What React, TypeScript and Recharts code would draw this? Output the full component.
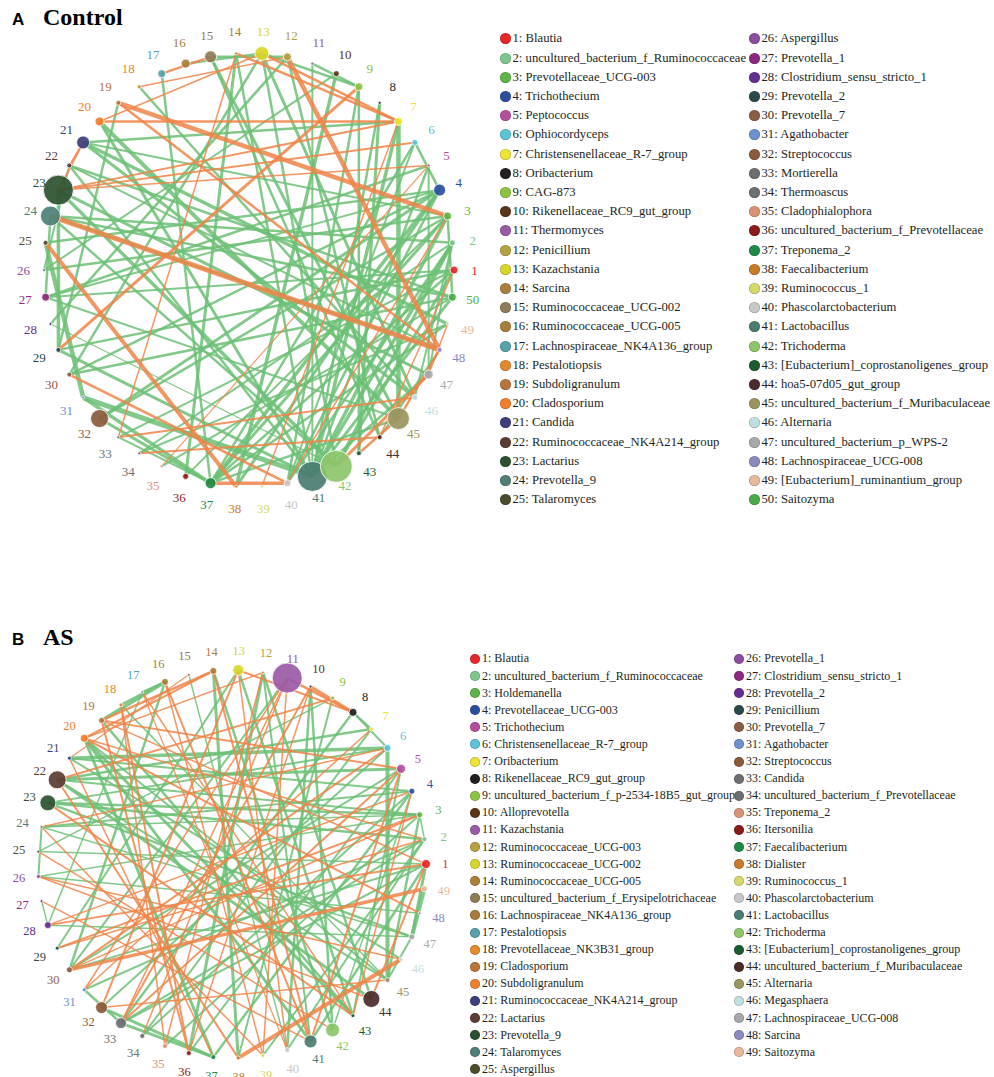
import { ScatterChart, Scatter, XAxis, YAxis, ReferenceLine } from 'recharts';

type Edge = [number, number, number];

const SERIF = '"Liberation Serif", "DejaVu Serif", "Noto Serif", Times, serif';
const SANS = '"Liberation Sans", Arial, "DejaVu Sans", sans-serif';
const POS_COLOR = '#6cbf76';
const NEG_COLOR = '#f08448';

// one colour per genus index, shared by both networks
const palette = [
  '#e8262a', '#7dc68f', '#5db548', '#2b4fa0', '#b44f9e', '#5bc4d6', '#eee333', '#231f20', '#8dc43f', '#5a3518',
  '#9a5aa6', '#b5a13f', '#d9d62a', '#ab7f3a', '#8e7b57', '#a87d3a', '#55a3a8', '#e08a2c', '#b8743a', '#f07f2a',
  '#3b3f7a', '#5a3d33', '#2e5030', '#4e8077', '#4c4c2c', '#8c4ea0', '#8e2780', '#662d91', '#2c4a4a', '#8b5e44',
  '#6e8fd0', '#8b5a3c', '#6d6e71', '#6d6e71', '#d99274', '#8b1a1a', '#1f8a45', '#c97a2a', '#d8d86a', '#c8c8c8',
  '#4a7c72', '#8cc56a', '#1a5c30', '#4a2a2a', '#9a9560', '#bfe0e0', '#a8a8a8', '#8a8ac0', '#e8b898', '#4aaa4a',
];

const controlNames = [
  'Blautia', 'uncultured_bacterium_f_Ruminococcaceae', 'Prevotellaceae_UCG-003', 'Trichothecium', 'Peptococcus',
  'Ophiocordyceps', 'Christensenellaceae_R-7_group', 'Oribacterium', 'CAG-873', 'Rikenellaceae_RC9_gut_group',
  'Thermomyces', 'Penicillium', 'Kazachstania', 'Sarcina', 'Ruminococcaceae_UCG-002',
  'Ruminococcaceae_UCG-005', 'Lachnospiraceae_NK4A136_group', 'Pestalotiopsis', 'Subdoligranulum', 'Cladosporium',
  'Candida', 'Ruminococcaceae_NK4A214_group', 'Lactarius', 'Prevotella_9', 'Talaromyces',
  'Aspergillus', 'Prevotella_1', 'Clostridium_sensu_stricto_1', 'Prevotella_2', 'Prevotella_7',
  'Agathobacter', 'Streptococcus', 'Mortierella', 'Thermoascus', 'Cladophialophora',
  'uncultured_bacterium_f_Prevotellaceae', 'Treponema_2', 'Faecalibacterium', 'Ruminococcus_1', 'Phascolarctobacterium',
  'Lactobacillus', 'Trichoderma', '[Eubacterium]_coprostanoligenes_group', 'hoa5-07d05_gut_group', 'uncultured_bacterium_f_Muribaculaceae',
  'Alternaria', 'uncultured_bacterium_p_WPS-2', 'Lachnospiraceae_UCG-008', '[Eubacterium]_ruminantium_group', 'Saitozyma',
];

const controlSizes = [
  4, 3, 4, 6, 1.5, 3, 4, 1.5, 4, 3,
  1.5, 4, 7, 1.5, 6, 4.5, 4, 2, 2.5, 4.5,
  6.5, 2.5, 15, 10, 2.5, 1.5, 4, 1.5, 2.5, 2.5,
  1.5, 9, 1.5, 1.5, 1.5, 3, 5.5, 1.5, 1.5, 3.5,
  15, 16, 2.5, 2.5, 11, 3, 4.5, 2.5, 1.5, 4,
];

// [node, node, line width]
const controlPositive: Edge[] = [
  [16, 13, 2.5], [15, 45, 3], [14, 36, 3], [18, 46, 2.5], [19, 29, 2.5], [20, 45, 4], [21, 49, 3.5],
  [22, 50, 2.5], [24, 50, 2.5], [25, 4, 2.5], [26, 3, 2.5], [27, 5, 2.5], [28, 42, 1.2], [29, 1, 2.5],
  [31, 41, 5], [31, 25, 4.5], [32, 4, 3], [33, 37, 2], [10, 38, 3.5], [8, 43, 3], [7, 45, 4.5],
  [11, 9, 2.5], [6, 4, 2.5], [13, 46, 3], [13, 30, 2.5], [12, 28, 2.5], [12, 44, 2.5], [9, 13, 2.5],
  [8, 41, 2.5], [7, 41, 3.5], [7, 21, 2.5], [6, 37, 2.5], [6, 40, 2], [5, 41, 2.5], [4, 37, 3.5],
  [4, 38, 3], [4, 40, 2.5], [4, 30, 2.5], [4, 27, 2], [3, 41, 3.5], [3, 37, 3], [3, 32, 2.5],
  [3, 21, 2], [2, 41, 3.5], [2, 42, 3], [2, 40, 2.5], [2, 24, 2.5], [2, 34, 2], [1, 42, 3],
  [1, 37, 2.5], [1, 27, 2], [1, 33, 2], [50, 41, 3], [50, 30, 2.5], [50, 35, 2], [49, 37, 2.5],
  [49, 34, 2], [48, 24, 2.5], [48, 22, 2], [47, 23, 3], [47, 41, 2.5], [46, 21, 3], [46, 2, 2],
  [45, 37, 2.5], [45, 27, 2], [44, 15, 2.5], [43, 9, 2.5], [42, 23, 3.5], [42, 24, 2.5], [41, 29, 3],
  [41, 22, 2.5], [41, 20, 3], [40, 9, 2.5], [37, 31, 3.5], [37, 17, 2.5], [36, 3, 2], [32, 37, 3],
  [24, 27, 2.5], [23, 29, 3.5], [22, 26, 2], [15, 12, 2.5], [14, 41, 2.5], [10, 26, 2], [5, 47, 2],
  [3, 50, 2.5], [2, 47, 2], [44, 48, 2], [42, 13, 2.5], [41, 11, 2],
];

const controlNegative: Edge[] = [
  [19, 3, 4.5], [20, 7, 2.5], [24, 48, 5], [12, 48, 4.5], [25, 38, 4], [37, 40, 3.5], [42, 47, 3],
  [45, 48, 2.5], [30, 40, 2.5], [33, 46, 2], [34, 44, 2], [33, 14, 1.5], [29, 9, 3], [7, 39, 1.5],
  [14, 7, 2.5], [13, 7, 2.5], [23, 7, 2], [23, 6, 2], [23, 5, 1.5], [21, 23, 2], [17, 15, 2.5],
  [20, 13, 1.5], [18, 12, 1.5], [19, 48, 2.5], [3, 40, 1.5], [49, 47, 1.5], [1, 44, 1.5], [35, 5, 1.2],
  [22, 21, 1.5], [43, 45, 2.5],
];

const asNames = [
  'Blautia', 'uncultured_bacterium_f_Ruminococcaceae', 'Holdemanella', 'Prevotellaceae_UCG-003', 'Trichothecium',
  'Christensenellaceae_R-7_group', 'Oribacterium', 'Rikenellaceae_RC9_gut_group', 'uncultured_bacterium_f_p-2534-18B5_gut_group', 'Alloprevotella',
  'Kazachstania', 'Ruminococcaceae_UCG-003', 'Ruminococcaceae_UCG-002', 'Ruminococcaceae_UCG-005', 'uncultured_bacterium_f_Erysipelotrichaceae',
  'Lachnospiraceae_NK4A136_group', 'Pestalotiopsis', 'Prevotellaceae_NK3B31_group', 'Cladosporium', 'Subdoligranulum',
  'Ruminococcaceae_NK4A214_group', 'Lactarius', 'Prevotella_9', 'Talaromyces', 'Aspergillus',
  'Prevotella_1', 'Clostridium_sensu_stricto_1', 'Prevotella_2', 'Penicillium', 'Prevotella_7',
  'Agathobacter', 'Streptococcus', 'Candida', 'uncultured_bacterium_f_Prevotellaceae', 'Treponema_2',
  'Itersonilia', 'Faecalibacterium', 'Dialister', 'Ruminococcus_1', 'Phascolarctobacterium',
  'Lactobacillus', 'Trichoderma', '[Eubacterium]_coprostanoligenes_group', 'uncultured_bacterium_f_Muribaculaceae', 'Alternaria',
  'Megasphaera', 'Lachnospiraceae_UCG-008', 'Sarcina', 'Saitozyma',
];

const asSizes = [
  4.5, 2.5, 3, 3, 4.5, 3.5, 2, 4, 2, 1.5,
  15, 1.5, 5.5, 3.5, 1.5, 3.5, 1.5, 2, 3, 4,
  2, 9, 8, 1.5, 1.5, 2, 1.5, 3.5, 2, 3,
  2, 6, 5.5, 2.5, 2.5, 2.5, 2.5, 2, 2, 2.5,
  6.5, 7, 2, 8.5, 2.5, 2, 3, 1.5, 3,
];

const asPositive: Edge[] = [
  [16, 19, 3.5], [16, 18, 2.5], [16, 17, 2], [16, 30, 2.5], [21, 6, 3.5], [22, 5, 3], [23, 3, 2.5],
  [6, 45, 4], [47, 49, 4], [47, 1, 3], [10, 40, 2.5], [8, 7, 2], [8, 6, 2], [12, 36, 3],
  [14, 38, 3], [13, 29, 2], [11, 30, 2], [20, 41, 3], [20, 37, 3], [19, 43, 2.5], [17, 28, 1.5],
  [18, 45, 1.5], [22, 44, 3], [23, 2, 2.5], [24, 4, 2], [25, 1, 1.5], [26, 3, 1.5], [28, 47, 1.5],
  [30, 5, 2], [31, 2, 2], [32, 37, 3], [33, 37, 3], [32, 6, 2], [34, 4, 2], [35, 3, 2],
  [36, 5, 2], [37, 4, 2.5], [39, 2, 2], [40, 2, 2], [41, 1, 2.5], [42, 4, 1.5], [43, 5, 2],
  [45, 3, 2.5], [45, 22, 2], [46, 21, 2], [47, 24, 1.5], [48, 26, 1.5], [1, 30, 2], [2, 33, 2],
  [3, 24, 1.5], [4, 21, 2], [7, 34, 2], [9, 38, 2], [9, 25, 1.5], [12, 44, 2.5], [14, 42, 2.5],
  [15, 40, 1.5], [24, 26, 2], [27, 28, 1.5], [31, 33, 2.5], [45, 47, 2], [2, 3, 1.5],
  [43, 20, 3], [43, 13, 2.5], [45, 20, 2], [47, 23, 2.5], [3, 22, 2], [7, 22, 2.5], [6, 23, 2],
  [10, 42, 2.5], [8, 33, 2.5], [12, 41, 2], [1, 33, 2],
];

const asNegative: Edge[] = [
  [10, 8, 3], [11, 8, 2.5], [13, 8, 2], [14, 19, 2.5], [15, 21, 1.2], [16, 41, 2], [38, 46, 4],
  [49, 30, 3.5], [44, 1, 2], [1, 28, 2], [5, 33, 2], [23, 43, 2], [30, 6, 2], [28, 4, 1.5],
  [18, 36, 2], [18, 35, 1.5], [19, 5, 2], [20, 14, 2], [11, 33, 1.5], [11, 34, 1.5], [13, 32, 2],
  [12, 20, 1.5], [9, 22, 2], [7, 31, 1.5], [6, 24, 1.5], [3, 30, 1.5], [2, 29, 1.5], [48, 20, 2],
  [46, 26, 1.5], [45, 32, 1.5], [43, 17, 1.5], [41, 14, 2], [40, 13, 1.5], [39, 11, 1.5], [36, 10, 1.5],
  [35, 12, 1.5], [33, 10, 2], [31, 11, 1.5], [29, 3, 2], [27, 41, 1.5], [26, 44, 1.5], [25, 42, 1.5],
  [24, 39, 1.5], [22, 38, 2], [21, 37, 1.5], [19, 36, 2], [17, 40, 1.2], [16, 39, 1.5], [5, 41, 2],
  [4, 43, 1.5], [2, 20, 1.5], [1, 19, 1.5],
];

type NetworkProps = {
  sizes: number[];
  positive: Edge[];
  negative: Edge[];
  cx: number;
  cy: number;
  rx: number;
  ry: number;
  width: number;
  height: number;
  fontSize: number;
};

// nodes sit on a ring, numbered counter-clockwise from 3 o'clock
function ringLayout(sizes: number[]) {
  const n = sizes.length;
  return sizes.map((r, i) => {
    const a = (2 * Math.PI * i) / n;
    return { id: i + 1, x: Math.cos(a), y: Math.sin(a), r, color: palette[i] };
  });
}

function Network({ sizes, positive, negative, cx, cy, rx, ry, width, height, fontSize }: NetworkProps) {
  const nodes = ringLayout(sizes);
  const labels = nodes.map((d) => ({ ...d, x: d.x * 1.1, y: d.y * 1.1 }));
  const xDomain = [-cx / rx, (width - cx) / rx];
  const yDomain = [-(height - cy) / ry, cy / ry];

  const edgeLine = (e: Edge, color: string, key: string) => {
    const a = nodes[e[0] - 1];
    const b = nodes[e[1] - 1];
    return (
      <ReferenceLine
        key={key}
        segment={[{ x: a.x, y: a.y }, { x: b.x, y: b.y }]}
        stroke={color}
        strokeWidth={e[2]}
        strokeOpacity={0.85}
        ifOverflow="visible"
      />
    );
  };

  return (
    <ScatterChart width={width} height={height} margin={{ top: 0, right: 0, bottom: 0, left: 0 }} style={{ overflow: 'visible' }}>
      <XAxis type="number" dataKey="x" domain={xDomain} hide allowDataOverflow />
      <YAxis type="number" dataKey="y" domain={yDomain} hide allowDataOverflow />
      {positive.map((e, i) => edgeLine(e, POS_COLOR, `p${i}`))}
      {negative.map((e, i) => edgeLine(e, NEG_COLOR, `n${i}`))}
      <Scatter
        data={nodes}
        isAnimationActive={false}
        shape={(p: any) => (
          <circle cx={p.cx} cy={p.cy} r={p.payload.r} fill={p.payload.color} fillOpacity={0.92} stroke="#fff" strokeWidth={0.8} />
        )}
      />
      <Scatter
        data={labels}
        isAnimationActive={false}
        shape={(p: any) => (
          <text x={p.cx} y={p.cy} textAnchor="middle" dominantBaseline="central" fill={p.payload.color} fontSize={fontSize} style={{ fontFamily: SERIF }}>
            {p.payload.id}
          </text>
        )}
      />
    </ScatterChart>
  );
}

type LegendProps = {
  names: string[];
  left: number[];
  top: number;
  step: number;
  fontSize: number;
  dot: number;
};

function GenusLegend({ names, left, top, step, fontSize, dot }: LegendProps) {
  const half = Math.ceil(names.length / 2);
  return (
    <>
      {names.map((name, i) => {
        const col = i < half ? 0 : 1;
        const row = i < half ? i : i - half;
        return (
          <div
            key={name + i}
            style={{
              position: 'absolute',
              left: left[col] - dot / 2,
              top: top + row * step - step / 2,
              height: step,
              display: 'flex',
              alignItems: 'center',
              whiteSpace: 'nowrap',
              fontFamily: SERIF,
              fontSize,
              color: '#231f20',
            }}
          >
            <span
              style={{
                width: dot,
                height: dot,
                borderRadius: '50%',
                background: palette[i],
                boxShadow: 'inset 0 0 0 0.6px rgba(0,0,0,0.25)',
                marginRight: 2,
                flex: 'none',
              }}
            />
            {i + 1}: {name}
          </div>
        );
      })}
    </>
  );
}

function PanelTitle({ letter, title, top }: { letter: string; title: string; top: number }) {
  return (
    <div style={{ position: 'absolute', left: 12, top, display: 'flex', alignItems: 'baseline' }}>
      <span style={{ fontFamily: SANS, fontWeight: 700, fontSize: 17, width: 31 }}>{letter}</span>
      <span style={{ fontFamily: SERIF, fontWeight: 700, fontSize: 24 }}>{title}</span>
    </div>
  );
}

export default function App() {
  return (
    <div style={{ position: 'relative', width: 994, height: 1077, background: '#fff', overflow: 'hidden' }}>
      <style>{'body{margin:0}'}</style>
      <PanelTitle letter="A" title="Control" top={4} />
      <div style={{ position: 'absolute', left: 0, top: 0 }}>
        <Network
          sizes={controlSizes}
          positive={controlPositive}
          negative={controlNegative}
          cx={249}
          cy={270}
          rx={205}
          ry={217}
          width={500}
          height={560}
          fontSize={13}
        />
      </div>
      <GenusLegend names={controlNames} left={[505, 754]} top={39} step={19.2} fontSize={12.7} dot={11} />

      <PanelTitle letter="B" title="AS" top={624} />
      <div style={{ position: 'absolute', left: 0, top: 620 }}>
        <Network
          sizes={asSizes}
          positive={asPositive}
          negative={asNegative}
          cx={232}
          cy={244}
          rx={194}
          ry={194}
          width={470}
          height={457}
          fontSize={12.5}
        />
      </div>
      <GenusLegend names={asNames} left={[475, 739]} top={659} step={17.1} fontSize={12} dot={10} />
    </div>
  );
}
